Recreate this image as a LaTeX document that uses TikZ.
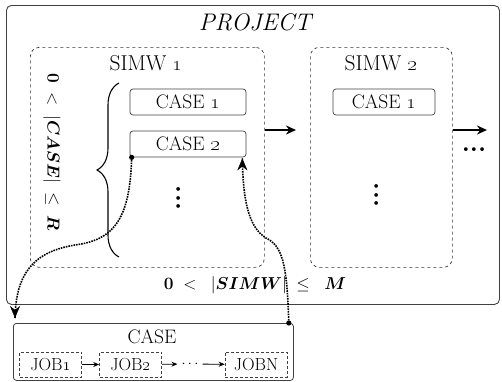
\documentclass[tikz,border=0pt]{standalone}
\usepackage{bm}
\usepackage{graphicx}
\usetikzlibrary{arrows.meta,decorations.pathreplacing,calc}
\begin{document}
\begin{tikzpicture}[x=1pt,y=-1pt,
  frame/.style={draw=black!75, line width=0.9pt, rounded corners=5pt, inner sep=0pt},
  simw/.style={draw=black!80, dashed, line width=0.7pt, rounded corners=9pt, inner sep=0pt},
  casebox/.style={draw=black!75, line width=0.7pt, rounded corners=3pt, minimum height=26pt, inner sep=0pt, font=\fontsize{19.5}{21}\selectfont},
  jobbox/.style={draw=black!75, densely dashed, line width=0.6pt, minimum width=62pt, minimum height=25pt, inner sep=0pt, font=\fontsize{17.5}{19}\selectfont},
  flow/.style={-{Stealth[length=10pt,width=9pt]}, line width=2pt},
  small/.style={-{Stealth[length=6pt,width=5pt]}, line width=0.8pt},
  link/.style={densely dotted, line width=1.6pt},
  tip/.style={-{Stealth[length=12pt,width=10pt]}},
  lbl/.style={font=\fontsize{21.5}{23}\selectfont},
  cond/.style={font=\fontsize{18.5}{20}\selectfont},
  vd/.style={rotate=90, inner sep=0pt, font=\bfseries\fontsize{26}{28}\selectfont}
]
\useasboundingbox (0,0) rectangle (502,381);

% project frame
\node[frame, minimum width=493pt, minimum height=299pt, anchor=north west] (proj) at (6,5) {};
\node[font=\itshape\fontsize{24}{26}\selectfont] (ptitle) at (255,22) {PROJECT};

% SIMW 1
\node[simw, minimum width=234pt, minimum height=220pt, anchor=north west] (s1) at (30,47) {};
\node[lbl] (s1t) at (146,63) {SIMW \oldstylenums{1}};
\node[casebox, minimum width=116pt] (c11) at (188,102) {CASE \oldstylenums{1}};
\node[casebox, minimum width=116pt] (c12) at (188,144) {CASE \oldstylenums{2}};
\node[vd] (s1d) at (179,198) {...};
\draw[line width=1.1pt, decorate, decoration={brace, amplitude=22pt, aspect=0.5}] (119,257) -- (119,83);
\node[cond, rotate=-90] (rcond) at (52,152) {$\mathbf{0} \;<\; |\bm{CASE}| \;\le\; \bm{R}$};

% SIMW 2
\node[simw, minimum width=142pt, minimum height=220pt, anchor=north west] (s2) at (310,47) {};
\node[lbl] (s2t) at (381,63) {SIMW \oldstylenums{2}};
\node[casebox, minimum width=102pt] (c21) at (384,102) {CASE \oldstylenums{1}};
\node[vd] (s2d) at (377,195) {...};

% flow arrows
\coordinate (a1) at (296,130);
\coordinate (a2) at (487,130);
\draw[flow] (s1.east |- a1) -- (a1);
\draw[flow] (s2.east |- a2) -- (a2);
\node[inner sep=0pt, font=\bfseries\fontsize{26}{28}\selectfont] (more) at (474,150) {...};

% bottom condition
\node[cond] (mcond) at (255,285) {$\mathbf{0} \;<\;\; |\bm{SIMW}| \;\le\;\; \bm{M}$};

% CASE detail
\node[draw=black!75, line width=0.8pt, rounded corners=3pt, minimum width=280pt, minimum height=57pt, inner sep=0pt, anchor=north west] (cd) at (13,323) {};
\node[font=\fontsize{19.5}{21}\selectfont] (cdt) at (152,337) {CASE};
\node[jobbox] (j1) at (50.5,364.5) {JOB\oldstylenums{1}};
\node[jobbox] (j2) at (130.5,364.5) {JOB\oldstylenums{2}};
\node[font=\fontsize{14}{16}\selectfont, inner xsep=4pt, inner ysep=1pt] (jd) at (190,364) {$\cdots$};
\node[jobbox] (jn) at (256,364.5) {JOBN};
\draw[small] (j1) -- (j2);
\draw[small] (j2) -- (jd);
\draw[small] (jd) -- (jn);

% dotted links
\coordinate (p1) at ($(c12.south west)+(2,0)$);
\coordinate (q1) at (15,318);
\coordinate (p2) at ($(cd.north east)+(-5,0)$);
\coordinate (q2) at ($(c12.south east)+(-4,1)$);
\coordinate (m1) at (75,245);
\coordinate (m2) at (266,238);
\draw[link] (p1) .. controls (130,222) and (112,240) .. (m1) .. controls (32,252) and (16,275) .. (q1);
\draw[tip] ($(q1)+(0,-1)$) -- (q1);
\draw[link] (p2) .. controls (287,262) and (282,246) .. (m2) .. controls (250,228) and (243,205) .. (q2);
\draw[tip] ($(q2)+(0,1)$) -- (q2);
\fill (p1) circle (2.6pt);
\fill (p2) circle (2.6pt);
\end{tikzpicture}
\end{document}
